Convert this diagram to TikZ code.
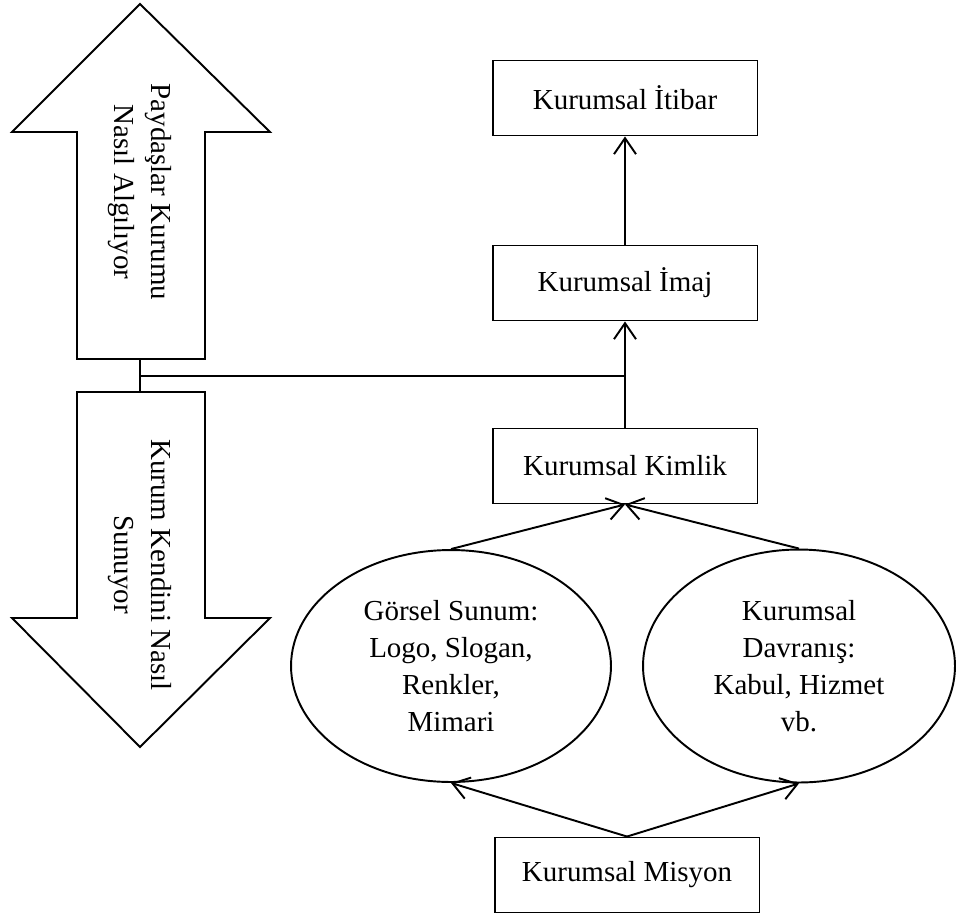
\documentclass[tikz,border=0pt]{standalone}
\usepackage{fontspec}
\setmainfont{Liberation Serif}
\usetikzlibrary{arrows.meta,shapes.geometric}

\tikzset{
  kutu/.style={draw,line width=1.1pt,minimum width=5.3cm,minimum height=1.5cm,inner sep=0pt},
  elips/.style={draw,ellipse,line width=1.1pt,inner sep=0pt,align=center},
  oklu/.style={line width=1.1pt,-{Straight Barb[length=0.32cm,width=0.44cm]}},
  cizgi/.style={line width=1.1pt},
  yazi/.style={font=\fontsize{16.5}{21}\selectfont}
}

\begin{document}
\begin{tikzpicture}[x=0.02cm,y=-0.02cm,yazi]
    %\draw[help lines] (0,0) grid (956,916);
    \useasboundingbox (0,0) rectangle (956,916);
    % sol taraftaki buyuk oklar
       \draw[cizgi] (140,4) -- (12,132) -- (77,132) -- (77,359) -- (205,359) -- (205,132) -- (270,132) -- cycle;
       \draw[cizgi] (140,747) -- (12,618) -- (77,618) -- (77,392) -- (205,392) -- (205,618) -- (270,618) -- cycle;
       \node[rotate=-90,align=center] (algi) at (140,192) {Paydaşlar Kurumu\\Nasıl Algılıyor};
       \node[rotate=-90,align=center] (sunum) at (140,565) {Kurum Kendini Nasıl\\Sunuyor};
       \coordinate (ustok) at (140,359);
       \coordinate (altok) at (140,392);
       \coordinate (baglanti) at (140,376);
    % kutular
       \node[kutu] (itibar) at (625,98) {Kurumsal İtibar};
       \node[kutu] (imaj) at (625,283) {Kurumsal İmaj};
       \node[kutu] (kimlik) at (625,466) {Kurumsal Kimlik};
       \node[kutu] (misyon) at (627,875) {Kurumsal Misyon};
       \node[elips,minimum width=6.4cm,minimum height=4.64cm] (gorsel) at (451,666) {Görsel Sunum:\\Logo, Slogan,\\Renkler,\\Mimari};
       \node[elips,minimum width=6.24cm,minimum height=4.66cm] (davranis) at (799,666) {Kurumsal\\Davranış:\\Kabul, Hizmet\\vb.};
    % baglantilar
       \coordinate (dugum) at (kimlik.north |- baglanti);
       \draw[cizgi] (ustok) -- (altok);
       \draw[cizgi] (baglanti) -- (dugum);
       \draw[oklu] (imaj.north) -- (itibar.south);
       \draw[oklu] (kimlik.north) -- (imaj.south);
       \draw[oklu] (gorsel.north) -- (kimlik.south);
       \draw[oklu] (davranis.north) -- (kimlik.south);
       \draw[oklu] (misyon.north) -- (gorsel.south);
       \draw[oklu] (misyon.north) -- (davranis.south);
\end{tikzpicture}
\end{document}
